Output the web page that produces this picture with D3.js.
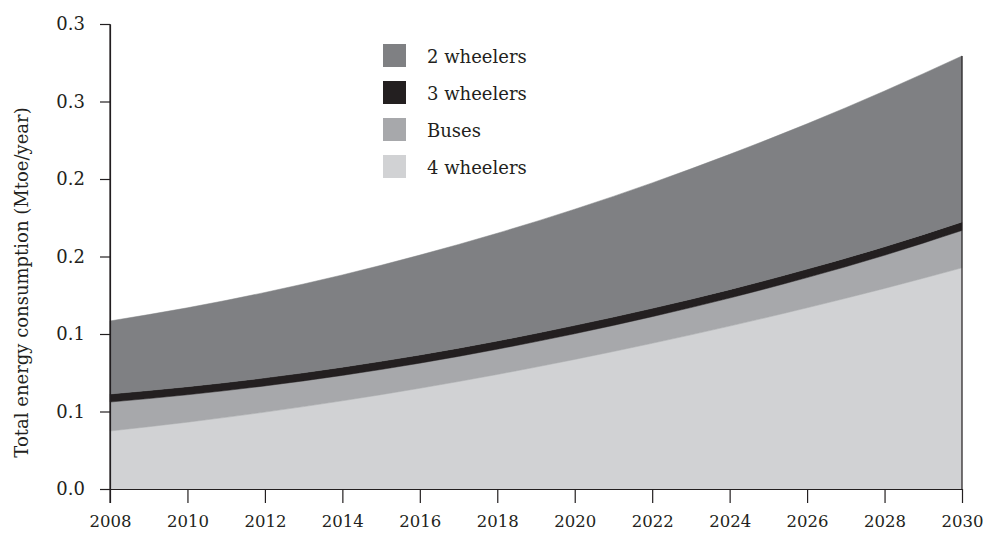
<!DOCTYPE html>
<html>
<head>
<meta charset="utf-8">
<script src="https://cdn.jsdelivr.net/npm/d3@7"></script>
<style>
  body { margin: 0; background: #fff; }
  svg text { font-family: "DejaVu Serif", serif; fill: #231f20; }
</style>
</head>
<body>
<div id="chart"></div>
<script>
// Data (Mtoe/year)
const years = [2008, 2010, 2012, 2014, 2016, 2018, 2020, 2022, 2024, 2026, 2028, 2030];
const fourWheelers = [0.0374, 0.0431, 0.0496, 0.0569, 0.0650, 0.0739, 0.0836, 0.0940, 0.1051, 0.1169, 0.1294, 0.1427];
const buses = [0.0187, 0.0177, 0.0169, 0.0164, 0.0162, 0.0163, 0.0166, 0.0172, 0.0181, 0.0195, 0.0214, 0.0241];
const threeWheelers = [0.0052, 0.0052, 0.0052, 0.0053, 0.0053, 0.0053, 0.0054, 0.0054, 0.0054, 0.0055, 0.0055, 0.0055];
const twoWheelers = [0.0471, 0.0509, 0.0551, 0.0595, 0.0644, 0.0695, 0.0749, 0.0809, 0.0873, 0.0937, 0.1005, 0.1071];

const yTickValues = [0, 0.05, 0.1, 0.15, 0.2, 0.25, 0.3];
const yTickLabels = ["0.0", "0.1", "0.1", "0.2", "0.2", "0.3", "0.3"];
const xTickValues = years;

const seriesKeys = ["four", "buses", "three", "two"];
const seriesNames = { two: "2 wheelers", three: "3 wheelers", buses: "Buses", four: "4 wheelers" };
const colors = { two: "#7f8083", three: "#231f20", buses: "#a7a8ab", four: "#d1d2d4" };
const legendOrder = ["two", "three", "buses", "four"];

// Set up the dimensions
const margin = { top: 24, right: 21, bottom: 49, left: 110 };
const width = 983 - margin.left - margin.right;
const height = 538 - margin.top - margin.bottom;
const fontSize = "18px";

const svg = d3.select("#chart")
  .append("svg")
  .attr("width", 983)
  .attr("height", 538)
  .append("g")
  .attr("transform", `translate(${margin.left},${margin.top})`);

const table = years.map((yr, i) => ({
  year: yr,
  four: fourWheelers[i],
  buses: buses[i],
  three: threeWheelers[i],
  two: twoWheelers[i]
}));

const stacked = d3.stack().keys(seriesKeys)(table);

// Scales
const x = d3.scaleLinear().domain([2008, 2030]).range([0, width]);
const y = d3.scaleLinear().domain([0, 0.3]).range([height, 0]);

const area = d3.area()
  .curve(d3.curveMonotoneX)
  .x(d => x(d.data.year))
  .y0(d => y(d[0]))
  .y1(d => y(d[1]));

svg.selectAll(".layer")
  .data(stacked)
  .enter()
  .append("path")
  .attr("class", "layer")
  .attr("d", area)
  .attr("fill", d => colors[d.key])
  .attr("stroke", d => colors[d.key])
  .attr("stroke-width", 0.5);

// right edge line
const topLayer = stacked[stacked.length - 1];
svg.append("line")
  .attr("x1", x(2030)).attr("x2", x(2030))
  .attr("y1", y(0)).attr("y2", y(topLayer[topLayer.length - 1][1]))
  .attr("stroke", "#231f20")
  .attr("stroke-width", 1.2);

// Axes
const xAxis = svg.append("g")
  .attr("transform", `translate(0,${height})`)
  .call(d3.axisBottom(x)
    .tickValues(xTickValues)
    .tickFormat(d3.format("d"))
    .tickSize(14)
    .tickSizeOuter(0)
    .tickPadding(12));

const yAxis = svg.append("g")
  .call(d3.axisLeft(y)
    .tickValues(yTickValues)
    .tickFormat((d, i) => yTickLabels[i])
    .tickSize(10)
    .tickSizeOuter(0)
    .tickPadding(15));

[xAxis, yAxis].forEach(g => {
  g.selectAll("path, line").attr("stroke", "#231f20").attr("stroke-width", 1.2);
  g.selectAll("text").style("font-family", "DejaVu Serif, serif").attr("fill", "#231f20");
});
xAxis.selectAll("text").style("font-size", "16.5px");
yAxis.selectAll("text").style("font-size", fontSize);

// extend y axis line down to the tick ends
svg.append("line")
  .attr("x1", 0).attr("x2", 0)
  .attr("y1", 0).attr("y2", height + 14)
  .attr("stroke", "#231f20")
  .attr("stroke-width", 1.2);

// Axis label
svg.append("text")
  .attr("transform", "rotate(-90)")
  .attr("x", -height / 2 - 26)
  .attr("y", -82)
  .attr("text-anchor", "middle")
  .style("font-size", fontSize)
  .text("Total energy consumption (Mtoe/year)");

// Legend
const legend = svg.append("g")
  .attr("transform", `translate(${383 - margin.left},${44 - margin.top})`);

const items = legend.selectAll(".item")
  .data(legendOrder)
  .enter()
  .append("g")
  .attr("transform", (d, i) => `translate(0,${i * 37})`);

items.append("rect")
  .attr("width", 23)
  .attr("height", 23)
  .attr("fill", d => colors[d]);

items.append("text")
  .attr("x", 44)
  .attr("y", 19)
  .style("font-size", fontSize)
  .text(d => seriesNames[d]);
</script>
</body>
</html>
